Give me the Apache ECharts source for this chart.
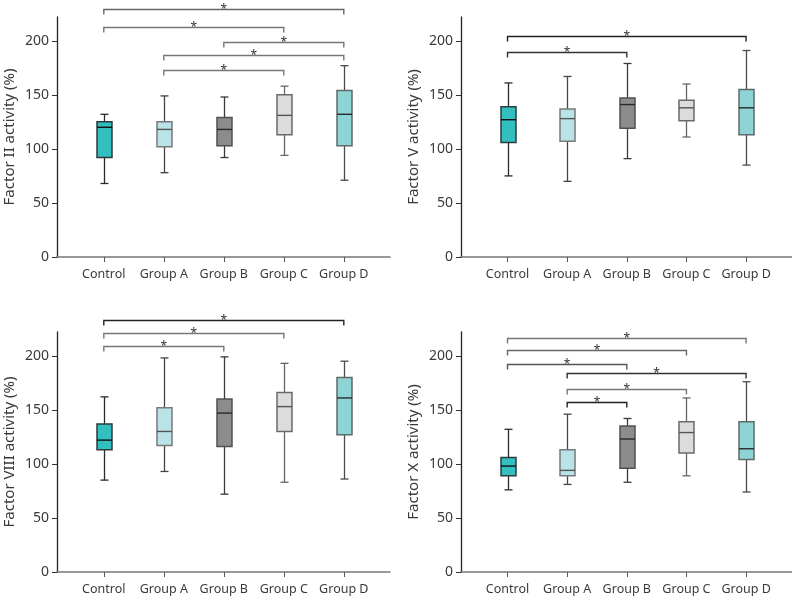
<!DOCTYPE html>
<html>
<head>
<meta charset="utf-8">
<script src="https://cdn.jsdelivr.net/npm/echarts@6/dist/echarts.min.js"></script>
<style>html,body{margin:0;padding:0;background:#fff}#c{width:792px;height:600px}</style>
</head>
<body>
<div id="c"></div>
<script>
// ---------------- data ----------------
const categories = ['Control', 'Group A', 'Group B', 'Group C', 'Group D'];
const yTicks = [0, 50, 100, 150, 200];

// Factor II
const f2Min = [68, 78, 92, 94, 71];
const f2Q1 = [92, 102, 103, 113, 103];
const f2Median = [120, 118, 118, 131, 132];
const f2Q3 = [125, 125, 129, 150, 154];
const f2Max = [132, 149, 148, 158, 177];
const f2BracketFrom = [1, 1, 3, 2, 2];
const f2BracketTo = [5, 4, 5, 5, 4];
const f2BracketLevel = [229, 213, 198.5, 187, 173];

// Factor V
const f5Min = [75, 70, 91, 111, 85];
const f5Q1 = [106, 107, 119, 126, 113];
const f5Median = [127, 128, 141, 138, 138];
const f5Q3 = [139, 137, 147, 145, 155];
const f5Max = [161, 167, 179, 160, 191];
const f5BracketFrom = [1, 1];
const f5BracketTo = [5, 3];
const f5BracketLevel = [204, 190];

// Factor VIII
const f8Min = [85, 93, 72, 83, 86];
const f8Q1 = [113, 117, 116, 130, 127];
const f8Median = [122, 130, 147, 153, 161];
const f8Q3 = [137, 152, 160, 166, 180];
const f8Max = [162, 198, 199, 193, 195];
const f8BracketFrom = [1, 1, 1];
const f8BracketTo = [5, 4, 3];
const f8BracketLevel = [233, 221, 209];

// Factor X
const f10Min = [76, 81, 83, 89, 74];
const f10Q1 = [89, 89, 96, 110, 104];
const f10Median = [98, 94, 123, 129, 114];
const f10Q3 = [106, 113, 135, 139, 139];
const f10Max = [132, 146, 142, 161, 176];
const f10BracketFrom = [1, 1, 1, 2, 2, 2];
const f10BracketTo = [5, 4, 3, 5, 4, 3];
const f10BracketLevel = [216, 205, 192, 184, 169.5, 157];

// ---------------- styles ----------------
const FONT = 'Noto Sans';
const boxFill = ['#33bec0', '#b9e3e7', '#8c8c8e', '#dcdcdd', '#8ed4d4'];
const boxStroke = ['#2d3b3c', '#777a7b', '#505052', '#6a6a6a', '#5f6a6a'];
const medianColor = ['#111', '#555', '#2a2a2a', '#555', '#2a2a2a'];
const whiskerColor = ['#2a2a2a', '#444', '#3a3a3a', '#666', '#4a4a4a'];
const BOX_W = 15, CAP_W = 8;

const panels = [
  {title: 'Factor II activity (%)', left: 57, top: 17, mn: f2Min, q1: f2Q1, md: f2Median, q3: f2Q3, mx: f2Max,
   bf: f2BracketFrom, bt: f2BracketTo, bl: f2BracketLevel, bc: ['#666', '#777', '#777', '#777', '#777']},
  {title: 'Factor V activity (%)', left: 461, top: 17, mn: f5Min, q1: f5Q1, md: f5Median, q3: f5Q3, mx: f5Max,
   bf: f5BracketFrom, bt: f5BracketTo, bl: f5BracketLevel, bc: ['#222', '#333']},
  {title: 'Factor VIII activity (%)', left: 57, top: 332, mn: f8Min, q1: f8Q1, md: f8Median, q3: f8Q3, mx: f8Max,
   bf: f8BracketFrom, bt: f8BracketTo, bl: f8BracketLevel, bc: ['#222', '#777', '#777']},
  {title: 'Factor X activity (%)', left: 461, top: 332, mn: f10Min, q1: f10Q1, md: f10Median, q3: f10Q3, mx: f10Max,
   bf: f10BracketFrom, bt: f10BracketTo, bl: f10BracketLevel, bc: ['#777', '#666', '#555', '#333', '#777', '#222']}
];

function boxRender(params, api) {
  const x = api.value(0);
  const i = params.dataIndex;
  const pMin = api.coord([x, api.value(1)]);
  const pQ1 = api.coord([x, api.value(2)]);
  const pMed = api.coord([x, api.value(3)]);
  const pQ3 = api.coord([x, api.value(4)]);
  const pMax = api.coord([x, api.value(5)]);
  const cx = Math.round(pMed[0]) + 0.5;
  const hw = BOX_W / 2, cw = CAP_W / 2;
  const ws = {stroke: whiskerColor[i], lineWidth: 1.3};
  return {type: 'group', children: [
    {type: 'line', shape: {x1: cx, y1: pQ3[1], x2: cx, y2: pMax[1]}, style: ws},
    {type: 'line', shape: {x1: cx, y1: pQ1[1], x2: cx, y2: pMin[1]}, style: ws},
    {type: 'line', shape: {x1: cx - cw, y1: pMax[1], x2: cx + cw, y2: pMax[1]}, style: ws},
    {type: 'line', shape: {x1: cx - cw, y1: pMin[1], x2: cx + cw, y2: pMin[1]}, style: ws},
    {type: 'rect', shape: {x: cx - hw, y: pQ3[1], width: BOX_W, height: pQ1[1] - pQ3[1]},
     style: {fill: boxFill[i], stroke: boxStroke[i], lineWidth: 1.5}},
    {type: 'line', shape: {x1: cx - hw, y1: pMed[1], x2: cx + hw, y2: pMed[1]},
     style: {stroke: medianColor[i], lineWidth: 1.4}}
  ]};
}

function bracketRender(colors) {
  return function (params, api) {
    const a = api.coord([api.value(0), api.value(2)]);
    const b = api.coord([api.value(1), api.value(2)]);
    const y = Math.round(a[1]) + 0.5;
    const c = colors[params.dataIndex] || '#666';
    return {type: 'group', children: [
      {type: 'polyline', shape: {points: [[a[0], y + 5], [a[0], y], [b[0], y], [b[0], y + 5]]},
       style: {stroke: c, lineWidth: 1.4, fill: null}},
      {type: 'text', x: (a[0] + b[0]) / 2, y: y + 6,
       style: {text: '*', fontSize: 12, fontFamily: FONT, fill: '#333', align: 'center', verticalAlign: 'bottom'}}
    ]};
  };
}

const grid = [], xAxis = [], yAxis = [], series = [];
panels.forEach(function (p, k) {
  grid.push({left: p.left, top: p.top, width: 333, height: 240});
  xAxis.push({
    type: 'value', gridIndex: k, min: 0.22, max: 5.77,
    splitLine: {show: false},
    axisLine: {show: true, lineStyle: {color: '#777', width: 1.6}},
    axisTick: {show: true, length: 5, customValues: [1, 2, 3, 4, 5], lineStyle: {color: '#555', width: 1}},
    axisLabel: {customValues: [1, 2, 3, 4, 5], margin: 11, color: '#3a3a3a', fontSize: 12.5, fontFamily: FONT,
      formatter: function (v) { return categories[Math.round(v) - 1] || ''; }}
  });
  yAxis.push({
    type: 'value', gridIndex: k, min: 0, max: 222,
    name: p.title, nameLocation: 'middle', nameRotate: 90, nameGap: 40,
    nameTextStyle: {fontSize: 15, fontFamily: FONT, color: '#3a3a3a'},
    splitLine: {show: false},
    axisLine: {show: true, lineStyle: {color: '#222', width: 1.3}},
    axisTick: {show: true, length: 5, customValues: yTicks, lineStyle: {color: '#333', width: 1}},
    axisLabel: {customValues: yTicks, margin: 8, color: '#3a3a3a', fontSize: 14, fontFamily: FONT}
  });
  const boxData = categories.map(function (c, i) { return [i + 1, p.mn[i], p.q1[i], p.md[i], p.q3[i], p.mx[i]]; });
  series.push({
    type: 'custom', xAxisIndex: k, yAxisIndex: k, renderItem: boxRender,
    encode: {x: 0, y: [1, 2, 3, 4, 5]}, data: boxData, clip: false, silent: true
  });
  const brData = p.bf.map(function (f, j) { return [f, p.bt[j], p.bl[j]]; });
  series.push({
    type: 'custom', xAxisIndex: k, yAxisIndex: k, renderItem: bracketRender(p.bc),
    encode: {x: [0, 1], y: 2}, data: brData, clip: false, silent: true
  });
});

const chart = echarts.init(document.getElementById('c'), null, {renderer: 'canvas'});
chart.setOption({animation: false, backgroundColor: '#fff', grid: grid, xAxis: xAxis, yAxis: yAxis, series: series});
</script>
</body>
</html>
